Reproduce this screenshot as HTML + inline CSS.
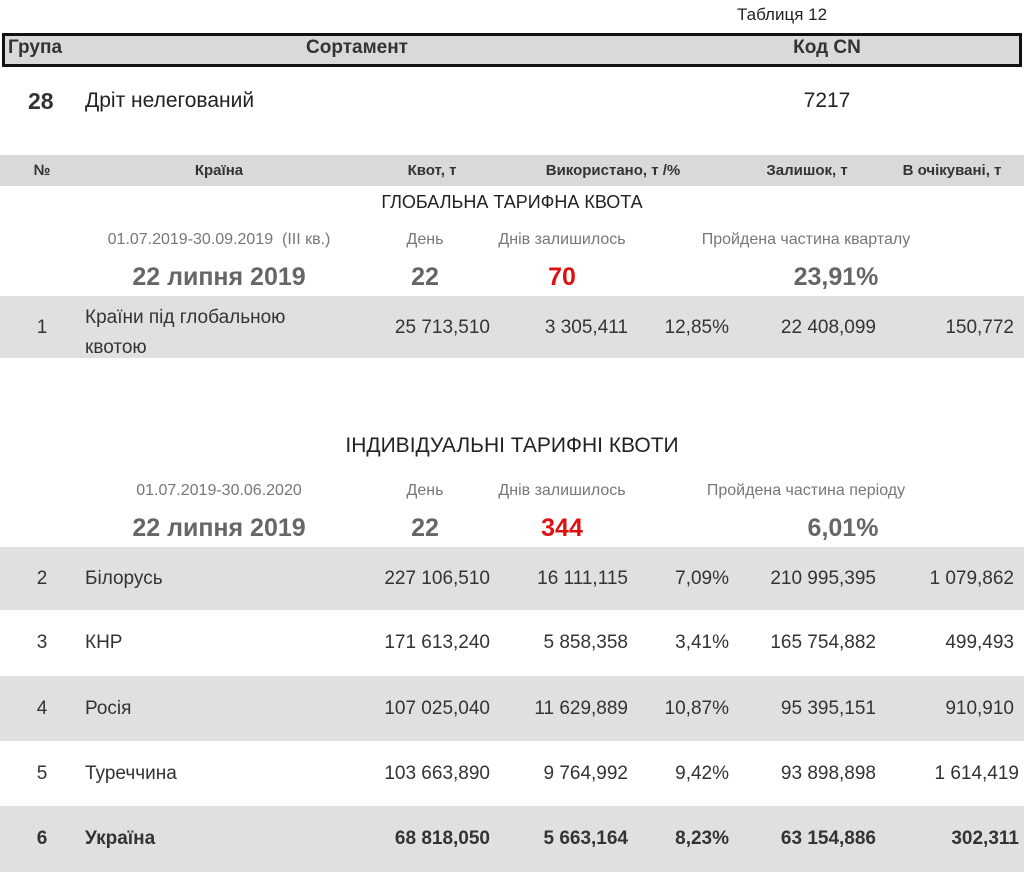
<!DOCTYPE html>
<html><head><meta charset="utf-8"><style>
body{margin:0;width:1024px;height:872px;background:#fff;position:relative;overflow:hidden;font-family:"Liberation Sans",sans-serif;color:#333}
.a{position:absolute;white-space:nowrap;line-height:1}
.c{transform:translateX(-50%)}
.r{transform:translateX(-100%)}
.bg{position:absolute;left:0;width:1024px;background:#e0e0e0}
.g{color:#777;font-size:16px}
.big{font-size:25px;font-weight:bold;color:#666}
.v{font-size:19px}
</style></head><body>
<div class="a" style="left:737px;top:6px;font-size:17px;color:#222">Таблиця 12</div>
<div style="position:absolute;left:2px;top:33px;width:1014px;height:28px;border:3px solid #111;background:#d9d9d9"></div>
<div class="a" style="left:8px;top:38px;font-size:19px;font-weight:bold">Група</div>
<div class="a c" style="left:357px;top:38px;font-size:19px;font-weight:bold">Сортамент</div>
<div class="a c" style="left:827px;top:38px;font-size:19px;font-weight:bold">Код CN</div>
<div class="a" style="left:28px;top:90px;font-size:23px;font-weight:bold">28</div>
<div class="a" style="left:85px;top:90px;font-size:21px;color:#222">Дріт нелегований</div>
<div class="a c" style="left:827px;top:90px;font-size:21px;color:#222">7217</div>

<div class="bg" style="top:155px;height:31px;background:#d9d9d9"></div>
<div class="a c" style="left:42px;top:163px;font-size:15px;font-weight:bold">№</div>
<div class="a c" style="left:219px;top:163px;font-size:15px;font-weight:bold">Країна</div>
<div class="a c" style="left:432px;top:163px;font-size:15px;font-weight:bold">Квот, т</div>
<div class="a c" style="left:613px;top:163px;font-size:15px;font-weight:bold">Використано, т /%</div>
<div class="a c" style="left:807px;top:163px;font-size:15px;font-weight:bold">Залишок, т</div>
<div class="a c" style="left:952px;top:163px;font-size:15px;font-weight:bold">В очікувані, т</div>

<div class="a c" style="left:512px;top:193px;font-size:18px;color:#222">ГЛОБАЛЬНА ТАРИФНА КВОТА</div>
<div class="a c g" style="left:219px;top:232px">01.07.2019-30.09.2019&nbsp; (ІІІ кв.)</div>
<div class="a c g" style="left:425px;top:232px">День</div>
<div class="a c g" style="left:562px;top:232px">Днів залишилось</div>
<div class="a c g" style="left:806px;top:232px">Пройдена частина кварталу</div>
<div class="a c big" style="left:219px;top:265px">22 липня 2019</div>
<div class="a c big" style="left:425px;top:265px">22</div>
<div class="a c big" style="left:562px;top:265px;color:#e01010">70</div>
<div class="a c big" style="left:836px;top:265px">23,91%</div>

<div class="bg" style="top:296px;height:62px"></div>
<div class="a c v" style="left:42px;top:318px">1</div>
<div class="a v" style="left:85px;top:303px;line-height:30px">Країни під глобальною<br>квотою</div>
<div class="a r v" style="left:490px;top:318px">25 713,510</div>
<div class="a r v" style="left:628px;top:318px">3 305,411</div>
<div class="a r v" style="left:729px;top:318px">12,85%</div>
<div class="a r v" style="left:876px;top:318px">22 408,099</div>
<div class="a r v" style="left:1014px;top:318px">150,772</div>

<div class="a c" style="left:512px;top:435px;font-size:21px;color:#222">ІНДИВІДУАЛЬНІ ТАРИФНІ КВОТИ</div>
<div class="a c g" style="left:219px;top:483px">01.07.2019-30.06.2020</div>
<div class="a c g" style="left:425px;top:483px">День</div>
<div class="a c g" style="left:562px;top:483px">Днів залишилось</div>
<div class="a c g" style="left:806px;top:483px">Пройдена частина періоду</div>
<div class="a c big" style="left:219px;top:516px">22 липня 2019</div>
<div class="a c big" style="left:425px;top:516px">22</div>
<div class="a c big" style="left:562px;top:516px;color:#e01010">344</div>
<div class="a c big" style="left:843px;top:516px">6,01%</div>

<div class="bg" style="top:547px;height:63px"></div>
<div class="bg" style="top:676px;height:65px"></div>
<div class="bg" style="top:806px;height:66px"></div>

<div class="a c v" style="left:42px;top:569px">2</div><div class="a v" style="left:85px;top:569px">Білорусь</div>
<div class="a r v" style="left:490px;top:569px">227 106,510</div><div class="a r v" style="left:628px;top:569px">16 111,115</div>
<div class="a r v" style="left:729px;top:569px">7,09%</div><div class="a r v" style="left:876px;top:569px">210 995,395</div>
<div class="a r v" style="left:1014px;top:569px">1 079,862</div>

<div class="a c v" style="left:42px;top:633px">3</div><div class="a v" style="left:85px;top:633px">КНР</div>
<div class="a r v" style="left:490px;top:633px">171 613,240</div><div class="a r v" style="left:628px;top:633px">5 858,358</div>
<div class="a r v" style="left:729px;top:633px">3,41%</div><div class="a r v" style="left:876px;top:633px">165 754,882</div>
<div class="a r v" style="left:1014px;top:633px">499,493</div>

<div class="a c v" style="left:42px;top:699px">4</div><div class="a v" style="left:85px;top:699px">Росія</div>
<div class="a r v" style="left:490px;top:699px">107 025,040</div><div class="a r v" style="left:628px;top:699px">11 629,889</div>
<div class="a r v" style="left:729px;top:699px">10,87%</div><div class="a r v" style="left:876px;top:699px">95 395,151</div>
<div class="a r v" style="left:1014px;top:699px">910,910</div>

<div class="a c v" style="left:42px;top:764px">5</div><div class="a v" style="left:85px;top:764px">Туреччина</div>
<div class="a r v" style="left:490px;top:764px">103 663,890</div><div class="a r v" style="left:628px;top:764px">9 764,992</div>
<div class="a r v" style="left:729px;top:764px">9,42%</div><div class="a r v" style="left:876px;top:764px">93 898,898</div>
<div class="a r v" style="left:1019px;top:764px">1 614,419</div>

<div style="font-weight:bold">
<div class="a c v" style="left:42px;top:829px">6</div><div class="a v" style="left:85px;top:829px">Україна</div>
<div class="a r v" style="left:490px;top:829px">68 818,050</div><div class="a r v" style="left:628px;top:829px">5 663,164</div>
<div class="a r v" style="left:729px;top:829px">8,23%</div><div class="a r v" style="left:876px;top:829px">63 154,886</div>
<div class="a r v" style="left:1019px;top:829px">302,311</div>
</div>
</body></html>
